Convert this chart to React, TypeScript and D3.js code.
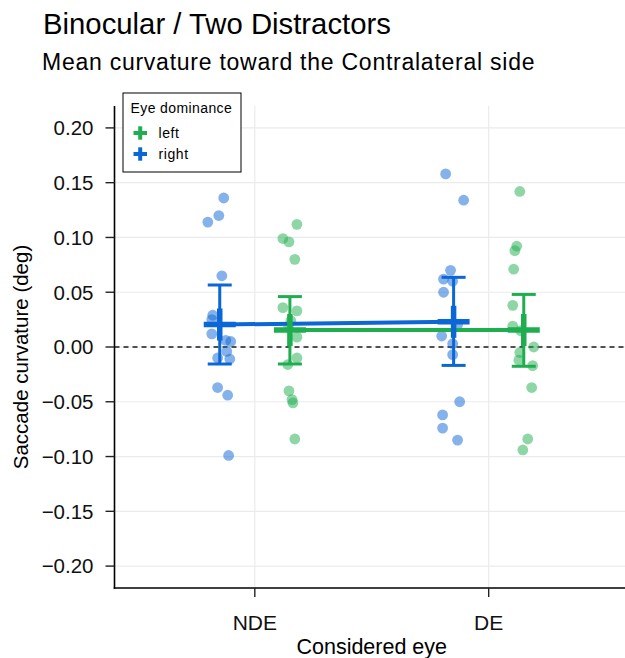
import * as d3 from 'd3'

const W = 625
const H = 658

const categories = ['NDE', 'DE']
const dodgeGroups = ['right', 'left']
const legendGroups = ['left', 'right']
const groupColor: Record<string, string> = { left: '#1fae4f', right: '#0b66d6' }
const yTicks = [-0.2, -0.15, -0.1, -0.05, 0, 0.05, 0.1, 0.15, 0.2]

// [jitter (category units), curvature]
const ndeRight = [
  [0.017, 0.136], [-0.004, 0.12], [-0.051, 0.114], [0.009, 0.065], [-0.03, 0.029],
  [-0.034, 0.025], [-0.034, 0.012], [0.026, 0.006], [0.047, 0.005], [0.03, -0.004],
  [-0.009, -0.01], [0.043, -0.011], [-0.009, -0.037], [0.034, -0.044], [0.038, -0.099],
]
const ndeLeft = [
  [0.03, 0.112], [-0.03, 0.099], [-0.004, 0.096], [0.021, 0.08], [-0.03, 0.036],
  [0.03, 0.033], [0.004, 0.024], [-0.006, 0.018], [0.03, 0.009], [0.03, -0.01],
  [-0.009, -0.016], [-0.004, -0.04], [0.009, -0.048], [0.013, -0.051], [0.021, -0.084],
]
const deRight = [
  [-0.034, 0.158], [0.043, 0.134], [-0.013, 0.07], [-0.043, 0.062], [-0.004, 0.06],
  [-0.043, 0.05], [0.017, 0.02], [-0.051, 0.01], [-0.004, 0.003], [-0.004, -0.007],
  [0.026, -0.05], [-0.047, -0.062], [-0.047, -0.074], [0.017, -0.085],
]
const deLeft = [
  [-0.017, 0.142], [-0.03, 0.092], [-0.038, 0.088], [-0.043, 0.071], [-0.047, 0.038],
  [-0.047, 0.019], [-0.013, 0.015], [0.043, 0.0], [-0.017, -0.005], [-0.021, -0.012],
  [0.038, -0.017], [0.034, -0.037], [0.017, -0.084], [-0.004, -0.094],
]
const points: Record<string, number[][][]> = {
  right: [ndeRight, deRight],
  left: [ndeLeft, deLeft],
}

// summary per category (NDE, DE)
const meanRight = [0.0205, 0.023]
const lowRight = [-0.0155, -0.0168]
const highRight = [0.0565, 0.0636]
const meanLeft = [0.0155, 0.0155]
const lowLeft = [-0.0155, -0.0176]
const highLeft = [0.046, 0.048]
const summary: Record<string, { mean: number[]; low: number[]; high: number[] }> = {
  right: { mean: meanRight, low: lowRight, high: highRight },
  left: { mean: meanLeft, low: lowLeft, high: highLeft },
}

const FONT = '"Liberation Sans", Arial, sans-serif'

export default function App() {
  const margin = { top: 106, left: 114.5, bottom: 588, right: 629 }
  const x = d3.scaleLinear().domain([0.4, 2.6]).range([margin.left, margin.right])
  const y = d3.scaleLinear().domain([-0.22, 0.22]).range([margin.bottom, margin.top])
  const dodge = (g: string) => (g === 'right' ? -0.15 : 0.15)
  const fmt = (v: number) => d3.format('.2f')(v).replace('-', '\u2212')

  const arm = 16
  const cap = 12
  const tick = 9

  return (
    <svg
      width={W}
      height={H}
      style={{ position: 'absolute', left: 0, top: 0, background: '#fff' }}
      fontFamily={FONT}
    >
      <defs>
        <clipPath id="panel">
          <rect x={margin.left} y={margin.top} width={margin.right - margin.left} height={margin.bottom - margin.top} />
        </clipPath>
      </defs>

      {/* grid */}
      {yTicks.map((t) => (
        <line key={'gy' + t} x1={margin.left} x2={W} y1={y(t)} y2={y(t)} stroke="#ebebeb" strokeWidth={1.2} />
      ))}
      {categories.map((c, i) => (
        <line key={'gx' + c} x1={x(i + 1)} x2={x(i + 1)} y1={margin.top} y2={margin.bottom} stroke="#ebebeb" strokeWidth={1.2} />
      ))}

      <line x1={margin.left} x2={W} y1={y(0)} y2={y(0)} stroke="#1a1a1a" strokeWidth={1.3} strokeDasharray="5,4" />

      <g clipPath="url(#panel)">
        {/* jittered points */}
        {dodgeGroups.map((g) =>
          points[g].map((pts, ci) =>
            pts.map(([j, v], k) => (
              <circle
                key={g + ci + '-' + k}
                cx={x(ci + 1 + dodge(g) + j)}
                cy={y(v)}
                r={5.4}
                fill={groupColor[g]}
                fillOpacity={0.5}
              />
            ))
          )
        )}

        {/* error bars */}
        {legendGroups.map((g) =>
          categories.map((c, ci) => {
            const cx = x(ci + 1 + dodge(g))
            const s = summary[g]
            return (
              <g key={'eb' + g + c} stroke={groupColor[g]} strokeWidth={3} fill="none">
                <line x1={cx} x2={cx} y1={y(s.low[ci])} y2={y(s.high[ci])} />
                <line x1={cx - cap} x2={cx + cap} y1={y(s.low[ci])} y2={y(s.low[ci])} />
                <line x1={cx - cap} x2={cx + cap} y1={y(s.high[ci])} y2={y(s.high[ci])} />
              </g>
            )
          })
        )}

        {/* mean lines */}
        {legendGroups.map((g) => (
          <path
            key={'ln' + g}
            d={
              d3
                .line<number>()
                .x((_, i) => x(i + 1 + dodge(g)))
                .y((d) => y(d))(summary[g].mean) || ''
            }
            stroke={groupColor[g]}
            strokeWidth={4}
            fill="none"
          />
        ))}

        {/* mean plus markers */}
        {legendGroups.map((g) =>
          categories.map((c, ci) => {
            const cx = x(ci + 1 + dodge(g))
            const cy = y(summary[g].mean[ci])
            return (
              <g key={'pl' + g + c} stroke={groupColor[g]} strokeWidth={5.5}>
                <line x1={cx - arm} x2={cx + arm} y1={cy} y2={cy} />
                <line x1={cx} x2={cx} y1={cy - arm} y2={cy + arm} />
              </g>
            )
          })
        )}
      </g>

      {/* axes */}
      <line x1={margin.left} x2={margin.left} y1={margin.top} y2={margin.bottom + 0.75} stroke="#000" strokeWidth={1.6} />
      <line x1={margin.left - 0.8} x2={W} y1={margin.bottom} y2={margin.bottom} stroke="#000" strokeWidth={1.6} />
      {yTicks.map((t) => (
        <g key={'ty' + t}>
          <line x1={margin.left - tick} x2={margin.left} y1={y(t)} y2={y(t)} stroke="#222" strokeWidth={1.4} />
          <text x={margin.left - tick - 12} y={y(t)} dy="0.36em" textAnchor="end" fontSize={20.5} fill="#111">
            {fmt(t)}
          </text>
        </g>
      ))}
      {categories.map((c, i) => (
        <g key={'tx' + c}>
          <line x1={x(i + 1)} x2={x(i + 1)} y1={margin.bottom} y2={margin.bottom + tick} stroke="#222" strokeWidth={1.4} />
          <text x={x(i + 1)} y={630} textAnchor="middle" fontSize={21} fill="#111">
            {c}
          </text>
        </g>
      ))}

      <text x={(margin.left + margin.right) / 2} y={654} textAnchor="middle" fontSize={21.5} fill="#000">
        Considered eye
      </text>
      <text
        transform={`translate(28,357) rotate(-90)`}
        textAnchor="middle"
        fontSize={20.5}
        fill="#000"
      >
        Saccade curvature (deg)
      </text>

      <text x={43} y={34} fontSize={29.3} fill="#000">
        Binocular / Two Distractors
      </text>
      <text x={42} y={69.5} fontSize={23} letterSpacing={0.75} fill="#000">
        Mean curvature toward the Contralateral side
      </text>

      {/* legend */}
      <g>
        <rect x={123} y={93} width={118} height={79} fill="#fff" stroke="#000" strokeWidth={1} />
        <text x={130.5} y={113} fontSize={14} letterSpacing={0.4} fill="#000">
          Eye dominance
        </text>
        {legendGroups.map((g, i) => {
          const ly = 133 + i * 21
          return (
            <g key={'lg' + g}>
              <g stroke={groupColor[g]} strokeWidth={4}>
                <line x1={133.5} x2={147} y1={ly} y2={ly} />
                <line x1={140.2} x2={140.2} y1={ly - 6.7} y2={ly + 6.7} />
              </g>
              <text x={158.5} y={ly} dy="0.36em" fontSize={14} letterSpacing={0.6} fill="#000">
                {g}
              </text>
            </g>
          )
        })}
      </g>
    </svg>
  )
}
